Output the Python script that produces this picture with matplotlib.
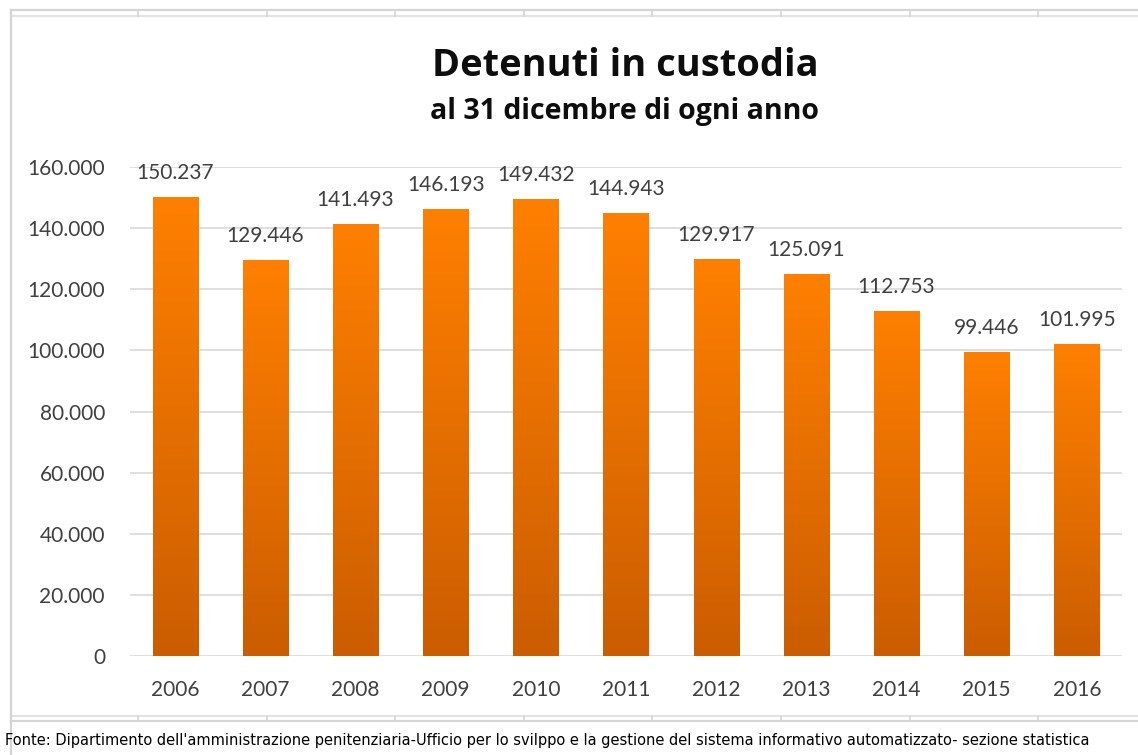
import matplotlib
matplotlib.use("Agg")
import matplotlib.pyplot as plt
import numpy as np
from matplotlib.lines import Line2D
from matplotlib.colors import LinearSegmentedColormap

years = ["2006", "2007", "2008", "2009", "2010", "2011", "2012", "2013", "2014", "2015", "2016"]
values = [150237, 129446, 141493, 146193, 149432, 144943, 129917, 125091, 112753, 99446, 101995]
yticks = [0, 20000, 40000, 60000, 80000, 100000, 120000, 140000, 160000]

def fmt(v):
    return f"{v:,}".replace(",", ".")

W, H = 1138, 755
fig = plt.figure(figsize=(W / 100, H / 100), dpi=100)
fig.patch.set_facecolor("white")

# overlay for spreadsheet-like frame
ov = fig.add_axes([0, 0, 1, 1])
ov.set_xlim(0, W)
ov.set_ylim(H, 0)
ov.axis("off")
frame_c = "#D4D4D4"
ov.add_line(Line2D([11, W], [10, 10], color=frame_c, lw=1.6))
ov.add_line(Line2D([11, W], [15.5, 15.5], color="#E3E3E3", lw=1.6))
ov.add_line(Line2D([11, W], [716, 716], color="#E3E3E3", lw=1.6))
ov.add_line(Line2D([11, W], [721, 721], color=frame_c, lw=1.6))
ov.add_line(Line2D([11, 11], [10, H], color=frame_c, lw=1.6))
for k in range(8):
    xx = 138 + k * 128.6
    ov.add_line(Line2D([xx, xx], [10, 15.5], color=frame_c, lw=1.2))
    ov.add_line(Line2D([xx, xx], [716, 721], color=frame_c, lw=1.2))

ax = fig.add_axes([130 / W, (H - 656) / H, (1122 - 130) / W, (656 - 167) / H])
x = np.arange(len(years))
bars = ax.bar(x, values, width=0.5, color="none", zorder=3)
ax.set_xlim(-0.5, len(years) - 0.5)
ax.set_ylim(0, 160000)

cmap = LinearSegmentedColormap.from_list("og", ["#CB5D00", "#FF8000"])
grad = np.linspace(0, 1, 256).reshape(-1, 1)
for b in bars:
    x0, w, h = b.get_x(), b.get_width(), b.get_height()
    # subtle shadow
    ax.bar(x0 + w / 2 + 0.012, h, width=w, bottom=-900, color="#000000", alpha=0.08, zorder=2)
    im = ax.imshow(grad, extent=(x0, x0 + w, 0, h), origin="lower", cmap=cmap,
                   aspect="auto", zorder=3)
    im.set_clip_path(b)

ax.set_yticks(yticks)
ax.set_yticklabels([fmt(v) for v in yticks])
ax.set_xticks(x)
ax.set_xticklabels(years)
ax.grid(axis="y", color="#D9D9D9", lw=1.2, zorder=0)
ax.set_axisbelow(True)
for s in ax.spines.values():
    s.set_visible(False)
ax.tick_params(axis="both", length=0, labelsize=15, labelcolor="#404040")
ax.tick_params(axis="y", pad=18)
ax.tick_params(axis="x", pad=17)
for lab in ax.get_xticklabels() + ax.get_yticklabels():
    lab.set_family("Lato")

for xi, v in zip(x, values):
    ax.annotate(fmt(v), (xi, v), xytext=(0, 13), textcoords="offset points",
                ha="center", va="baseline", fontsize=15, color="#404040",
                family="Lato", clip_on=False)

fig.text(625 / W, 1 - 66 / H, "Detenuti in custodia", ha="center", va="center",
         fontsize=27.4, fontweight="bold", family="Open Sans", color="#0D0D0D")
fig.text(625 / W, 1 - 111 / H, "al 31 dicembre di ogni anno", ha="center", va="center",
         fontsize=20.5, fontweight="bold", family="Open Sans", color="#0D0D0D")
fig.text(5 / W, 1 - 740 / H,
         "Fonte: Dipartimento dell'amministrazione penitenziaria-Ufficio per lo svilppo e la gestione del sistema informativo automatizzato- sezione statistica",
         ha="left", va="center", fontsize=10.5, family="DejaVu Sans", color="#000000")

fig.savefig("out.png", dpi=100, facecolor="white")
